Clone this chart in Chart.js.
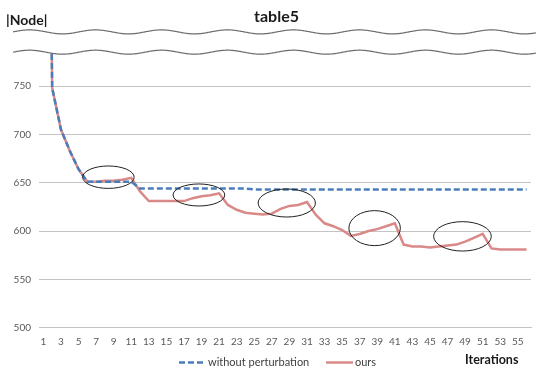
<!DOCTYPE html>
<html>
<head>
<meta charset="utf-8">
<script src="https://cdn.jsdelivr.net/npm/chart.js@4"></script>
<style>
  html, body { margin: 0; padding: 0; background: #fff; }
  #wrap { width: 536px; height: 369px; }
</style>
</head>
<body>
<div id="wrap"><canvas id="chart"></canvas></div>
<script>
const iterations = ['1','2','3','4','5','6','7','8','9','10','11','12','13','14','15','16','17','18','19','20',
  '21','22','23','24','25','26','27','28','29','30','31','32','33','34','35','36','37','38','39','40',
  '41','42','43','44','45','46','47','48','49','50','51','52','53','54','55','56'];

// first value sits above the axis break
const withoutPerturbation = [1500, 748, 705, 683, 664, 651, 651, 651, 651, 651, 651, 644, 644, 644, 644, 644,
  644, 644, 644, 644, 644, 644, 644, 644, 643, 643, 643, 643, 643, 643, 643, 643, 643, 643, 643, 643,
  643, 643, 643, 643, 643, 643, 643, 643, 643, 643, 643, 643, 643, 643, 643, 643, 643, 643, 643, 643];

const ours = [1500, 748, 705, 683, 664, 651, 651, 652, 652, 653, 655, 641, 631, 631, 631, 631,
  631, 634, 636, 637, 639, 627, 622, 619, 618, 617, 618, 623, 626, 627, 630, 617,
  608, 605, 601, 595, 597, 600, 602, 605, 608, 586, 584, 584, 583, 584, 585, 586,
  589, 593, 597, 582, 581, 581, 581, 581];

// highlighted spots: centre (category index, value) and radii in the same units
const circleX = [7.4, 17.7, 27.7, 37.7, 47.7];
const circleY = [655.7, 637.3, 629, 603, 594.5];
const circleRx = [2.93, 2.94, 3.26, 2.93, 3.28];
const circleRy = [11.6, 11.4, 14.5, 18.1, 15.2];

const FONT = 'Lato, "Liberation Sans", sans-serif';

const decorations = {
  id: 'decorations',
  afterDatasetsDraw(chart) {
    const { ctx, scales: { x, y } } = chart;
    ctx.save();
    ctx.strokeStyle = '#1f1f1f';
    ctx.lineWidth = 1;
    circleX.forEach((cx, i) => {
      const px = x.getPixelForValue(cx);
      const py = y.getPixelForValue(circleY[i]);
      const rx = x.getPixelForValue(cx + circleRx[i]) - px;
      const ry = py - y.getPixelForValue(circleY[i] + circleRy[i]);
      ctx.beginPath();
      ctx.ellipse(px, py, rx, ry, 0, 0, Math.PI * 2);
      ctx.stroke();
    });
    ctx.restore();
  },
  afterDraw(chart) {
    const { ctx, width, scales: { y } } = chart;
    const top = y.getPixelForValue(806);
    const bottom = y.getPixelForValue(785);
    const x0 = 13;
    const wave = (px, base) => base - 2 * Math.sin(2 * Math.PI * (px - x0) / 66);

    ctx.save();
    // white band of the axis break
    ctx.beginPath();
    for (let px = x0; px <= width; px++) ctx.lineTo(px, wave(px, top));
    for (let px = width; px >= x0; px--) ctx.lineTo(px, wave(px, bottom));
    ctx.closePath();
    ctx.fillStyle = '#fff';
    ctx.fill();

    ctx.strokeStyle = '#6e6e6e';
    ctx.lineWidth = 1.2;
    [top, bottom].forEach(base => {
      ctx.beginPath();
      for (let px = x0; px <= width; px++) ctx.lineTo(px, wave(px, base));
      ctx.stroke();
    });

    // titles
    ctx.fillStyle = '#1a1a1a';
    ctx.textBaseline = 'middle';
    ctx.textAlign = 'center';
    ctx.font = 'bold 16px ' + FONT;
    ctx.fillText('table5', 276.5, 17);
    ctx.textAlign = 'left';
    ctx.font = 'bold 14px ' + FONT;
    ctx.fillText('|Node|', 6, 20);
    ctx.font = 'bold 12.5px ' + FONT;
    ctx.fillText('Iterations', 465, 360);

    // legend
    const items = [
      { ds: chart.data.datasets[0], x1: 179, x2: 203, tx: 208 },
      { ds: chart.data.datasets[1], x1: 326, x2: 353, tx: 355 },
    ];
    const ly = 362.5;
    ctx.font = '11px ' + FONT;
    items.forEach(it => {
      ctx.beginPath();
      ctx.setLineDash(it.ds.borderDash || []);
      ctx.strokeStyle = it.ds.borderColor;
      ctx.lineWidth = it.ds.borderWidth;
      ctx.moveTo(it.x1, ly);
      ctx.lineTo(it.x2, ly);
      ctx.stroke();
      ctx.setLineDash([]);
      ctx.fillStyle = '#404040';
      ctx.fillText(it.ds.label, it.tx, ly);
    });
    ctx.restore();
  }
};

new Chart(document.getElementById('chart'), {
  type: 'line',
  data: {
    labels: iterations,
    datasets: [{
      label: 'without perturbation',
      data: withoutPerturbation,
      borderColor: '#4a7ebb',
      borderWidth: 2.5,
      borderDash: [6, 3],
      pointRadius: 0,
      tension: 0,
    }, {
      label: 'ours',
      data: ours,
      borderColor: '#d98987',
      borderWidth: 2.5,
      pointRadius: 0,
      tension: 0,
    }],
  },
  options: {
    responsive: true,
    maintainAspectRatio: false,
    animation: false,
    layout: { padding: { left: 12, right: 5, top: 37.7, bottom: 16.3 } },
    plugins: {
      title: { display: false },
      legend: { display: false },
      tooltip: { enabled: false },
    },
    scales: {
      x: {
        offset: true,
        afterFit: s => { s.height = 25; },
        grid: { display: false, drawTicks: false },
        border: { color: '#c4c4c4' },
        ticks: {
          autoSkip: false,
          maxRotation: 0,
          padding: 8,
          color: '#595959',
          font: { family: FONT, size: 10 },
          callback: (v, i) => (i % 2 === 0 ? iterations[i] : ''),
        },
      },
      y: {
        min: 500,
        max: 800,
        afterFit: s => { s.width = 27; },
        grid: {
          drawTicks: false,
          color: ctx => (ctx.tick && ctx.tick.value === 800 ? 'rgba(0,0,0,0)' : '#c4c4c4'),
        },
        border: { display: false },
        ticks: {
          stepSize: 50,
          padding: 8,
          color: '#595959',
          font: { family: FONT, size: 10 },
          callback: v => (v === 800 ? '' : v),
        },
      },
    },
  },
  plugins: [decorations],
});
</script>
</body>
</html>
